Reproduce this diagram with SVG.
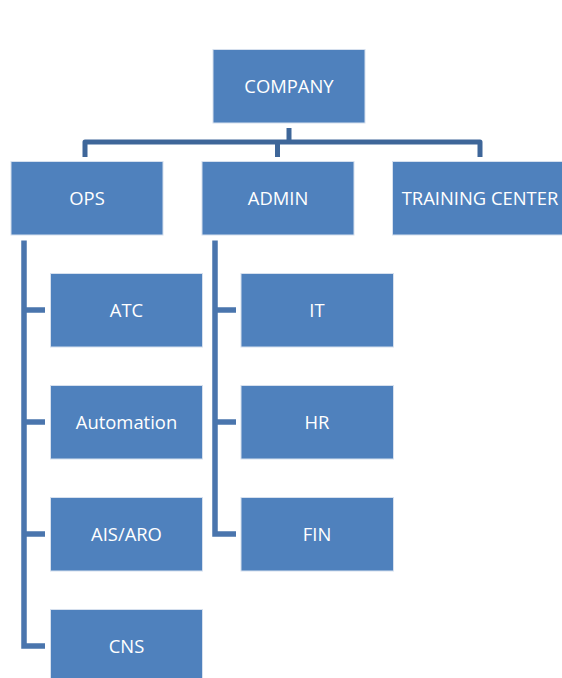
<svg xmlns="http://www.w3.org/2000/svg" width="562" height="678" viewBox="0 0 562 678">
<style>
.box{fill:#4f81bd;stroke:#d6e0ee;stroke-width:1}
.t{font-family:"Open Sans","DejaVu Sans",sans-serif;font-size:18.4px;fill:#ffffff;text-anchor:middle}
.c1{fill:none;stroke:#3e6699;stroke-width:5}
.c2{fill:none;stroke:#4a75ad;stroke-width:5.5}
</style>
<rect width="562" height="678" fill="#ffffff"/>
<g id="connectors">
<path class="c1" d="M289 128 V142"/>
<path class="c1" d="M85 157 V142 H480 V157" stroke-linejoin="round"/>
<path class="c1" d="M277.5 142 V157"/>
<path class="c2" d="M24 240.5 V646 H45"/>
<path class="c2" d="M24 310 H45 M24 422 H45 M24 534 H45"/>
<path class="c2" d="M215 240.5 V534 H236"/>
<path class="c2" d="M215 310 H236 M215 422 H236"/>
</g>
<g id="company"><rect class="box" x="213" y="49.5" width="152" height="73.5"/><text class="t" x="289" y="93">COMPANY</text></g>
<g id="ops"><rect class="box" x="11" y="161.5" width="152" height="73.5"/><text class="t" x="87" y="205">OPS</text></g>
<g id="admin"><rect class="box" x="202" y="161.5" width="152" height="73.5"/><text class="t" x="278" y="205">ADMIN</text></g>
<g id="training"><rect class="box" x="392.5" y="161.5" width="176" height="73.5"/><text class="t" x="480" y="205">TRAINING CENTER</text></g>
<g id="atc"><rect class="box" x="50.5" y="273.5" width="152" height="73.5"/><text class="t" x="126.5" y="317">ATC</text></g>
<g id="automation"><rect class="box" x="50.5" y="385.5" width="152" height="73.5"/><text class="t" x="126.5" y="429">Automation</text></g>
<g id="aisaro"><rect class="box" x="50.5" y="497.5" width="152" height="73.5"/><text class="t" x="126.5" y="541">AIS/ARO</text></g>
<g id="cns"><rect class="box" x="50.5" y="609.5" width="152" height="73.5"/><text class="t" x="126.5" y="653">CNS</text></g>
<g id="it"><rect class="box" x="241" y="273.5" width="152.5" height="73.5"/><text class="t" x="317" y="317">IT</text></g>
<g id="hr"><rect class="box" x="241" y="385.5" width="152.5" height="73.5"/><text class="t" x="317" y="429">HR</text></g>
<g id="fin"><rect class="box" x="241" y="497.5" width="152.5" height="73.5"/><text class="t" x="317" y="541">FIN</text></g>
</svg>
